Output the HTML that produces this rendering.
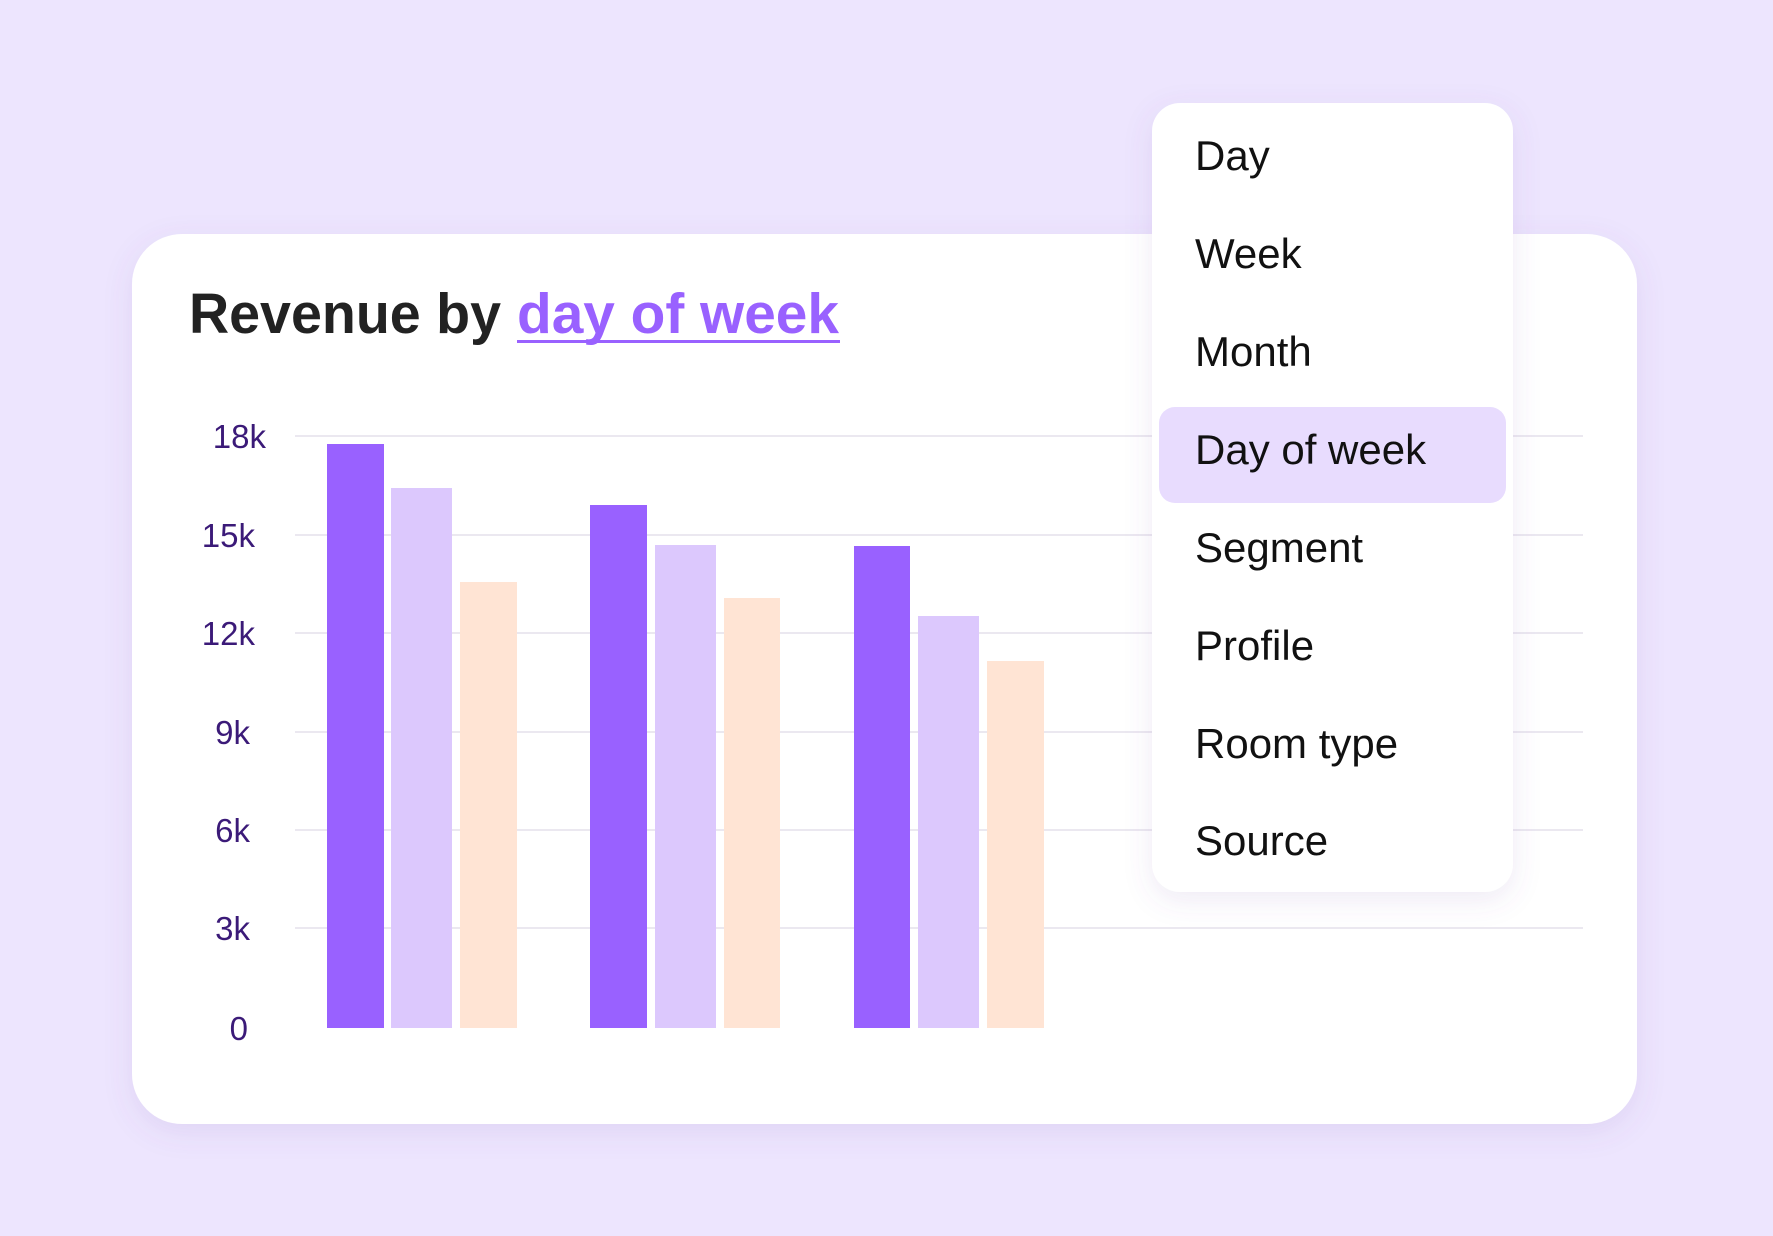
<!DOCTYPE html>
<html><head><style>
html,body{margin:0;padding:0;background:#ede5fe;}
svg{display:block}
text{font-family:"Liberation Sans",sans-serif}
</style></head><body>
<svg width="1773" height="1236" viewBox="0 0 1773 1236" xmlns="http://www.w3.org/2000/svg">
<defs>
<filter id="sh" x="-20%" y="-20%" width="140%" height="140%"><feDropShadow dx="0" dy="8" stdDeviation="14" flood-color="#7a5ab0" flood-opacity="0.12"/></filter>
</defs>
<rect width="1773" height="1236" fill="#ede5fe"/>
<rect x="132" y="234" width="1505" height="890" rx="50" fill="#fff" filter="url(#sh)"/>
<text x="189" y="333" font-size="57" fill="#222" font-weight="bold" textLength="312" lengthAdjust="spacingAndGlyphs">Revenue by</text>
<text x="517" y="333" font-size="57" fill="#9961ff" font-weight="bold" textLength="322" lengthAdjust="spacingAndGlyphs">day of week</text>
<rect x="517" y="340" width="323" height="3" fill="#9961ff"/>
<g stroke="#ebe8f0" stroke-width="2">
<line x1="295" x2="1583" y1="436" y2="436"/><line x1="295" x2="1583" y1="535" y2="535"/>
<line x1="295" x2="1583" y1="633" y2="633"/><line x1="295" x2="1583" y1="732" y2="732"/>
<line x1="295" x2="1583" y1="830" y2="830"/><line x1="295" x2="1583" y1="928" y2="928"/>
</g>
<g font-size="33" fill="#3b1a78" text-anchor="end">
<text x="266" y="448">18k</text><text x="255" y="547">15k</text><text x="255" y="645">12k</text>
<text x="250" y="744">9k</text><text x="250" y="842">6k</text><text x="250" y="940">3k</text>
<text x="248" y="1040">0</text>
</g>
<rect x="327" y="444" width="57" height="584" fill="#9961ff"/>
<rect x="391" y="488" width="61" height="540" fill="#dcc8fd"/>
<rect x="460" y="582" width="57" height="446" fill="#ffe4d4"/>
<rect x="590" y="505" width="57" height="523" fill="#9961ff"/>
<rect x="655" y="545" width="61" height="483" fill="#dcc8fd"/>
<rect x="724" y="598" width="56" height="430" fill="#ffe4d4"/>
<rect x="854" y="546" width="56" height="482" fill="#9961ff"/>
<rect x="918" y="616" width="61" height="412" fill="#dcc8fd"/>
<rect x="987" y="661" width="57" height="367" fill="#ffe4d4"/>
<rect x="1152" y="103" width="361" height="789" rx="28" fill="#fff" filter="url(#sh)"/>
<rect x="1159" y="407" width="347" height="96" rx="16" fill="#e8dcfe"/>
<g font-size="42" fill="#111">
<text x="1195" y="170">Day</text><text x="1195" y="268">Week</text><text x="1195" y="366">Month</text>
<text x="1195" y="464">Day of week</text><text x="1195" y="562">Segment</text><text x="1195" y="660">Profile</text>
<text x="1195" y="758">Room type</text><text x="1195" y="855">Source</text>
</g>
</svg>
</body></html>
